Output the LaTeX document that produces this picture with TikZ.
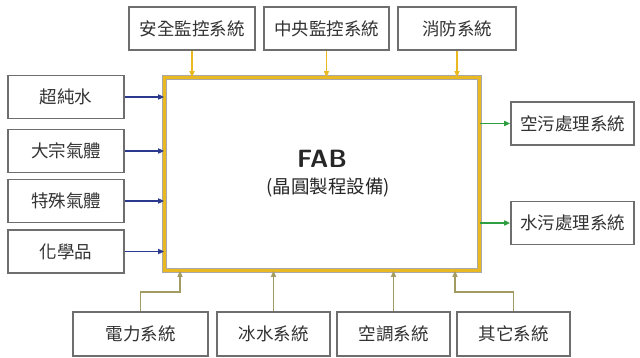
\documentclass[tikz,border=0pt]{standalone}
\usepackage{fontspec}
\setmainfont{Noto Sans CJK TC}
\newfontfamily\cjk{Noto Sans CJK TC}
\usetikzlibrary{arrows.meta}
\definecolor{boxgray}{HTML}{6E6E6E}
\definecolor{fabyellow}{HTML}{EAB821}
\definecolor{inblue}{HTML}{2B3A8F}
\definecolor{outgreen}{HTML}{2E9E40}
\definecolor{olive}{HTML}{A39C62}
\tikzset{
  sysbox/.style={draw=boxgray, line width=1.6pt, fill=white, inner sep=0pt,
    minimum height=43pt, font=\cjk\fontsize{17.5}{19}\selectfont, text=black!80},
  tip/.style={-{Triangle[length=6pt,width=5pt]}},
  topline/.style={tip, draw=fabyellow, line width=1.6pt},
  inline/.style={tip, draw=inblue, line width=1.6pt},
  outline/.style={tip, draw=outgreen, line width=1.6pt},
  botline/.style={tip, draw=olive, line width=1.6pt},
}
\begin{document}
\begin{tikzpicture}[x=1pt,y=-1pt]
\useasboundingbox (0,0) rectangle (640,358);
% FAB
\node[draw=boxgray!60, double=fabyellow, double distance=3.6pt, line width=0.7pt,
  minimum width=315pt, minimum height=193pt, inner sep=0pt] (fab) at (322,174) {};
\node[font=\sffamily\fontsize{25}{28}\selectfont\bfseries, text=black!85] (fabt) at (322,159) {FAB};
\node[font=\cjk\fontsize{18.5}{20}\selectfont, text=black!85] (fabs) at (328,188) {(晶圓製程設備)};
% top
\node[sysbox, minimum width=126pt] (t1) at (192,28.5) {安全監控系統};
\node[sysbox, minimum width=125pt] (t2) at (326.5,28.5) {中央監控系統};
\node[sysbox, minimum width=118pt] (t3) at (457,28.5) {消防系統};
% left
\node[sysbox, minimum width=116pt] (l1) at (66,97) {超純水};
\node[sysbox, minimum width=116pt] (l2) at (66,151) {大宗氣體};
\node[sysbox, minimum width=116pt] (l3) at (66,201) {特殊氣體};
\node[sysbox, minimum width=116pt] (l4) at (66,251.5) {化學品};
% right
\node[sysbox, minimum width=123pt] (r1) at (572.5,123.5) {空污處理系統};
\node[sysbox, minimum width=123pt] (r2) at (572.5,223) {水污處理系統};
% bottom
\node[sysbox, minimum width=135pt, minimum height=44pt] (b1) at (140.5,334) {電力系統};
\node[sysbox, minimum width=113pt, minimum height=44pt] (b2) at (273.5,334) {冰水系統};
\node[sysbox, minimum width=113pt, minimum height=44pt] (b3) at (393.5,334) {空調系統};
\node[sysbox, minimum width=113pt, minimum height=44pt] (b4) at (513.5,334) {其它系統};
% connectors
\draw[topline] (t1.south) -- (t1.south |- fab.north);
\draw[topline] (t2.south) -- (t2.south |- fab.north);
\draw[topline] (t3.south) -- (t3.south |- fab.north);
\draw[inline] (l1.east) -- (l1.east -| fab.west);
\draw[inline] (l2.east) -- (l2.east -| fab.west);
\draw[inline] (l3.east) -- (l3.east -| fab.west);
\draw[inline] (l4.east) -- (l4.east -| fab.west);
\draw[outline] (fab.east |- r1.west) -- (r1.west);
\draw[outline] (fab.east |- r2.west) -- (r2.west);
\coordinate (k1) at (180,292);
\coordinate (k4) at (455,292);
\draw[botline] (b1.north) |- (k1) -- (k1 |- fab.south);
\draw[botline] (b2.north) -- (b2.north |- fab.south);
\draw[botline] (b3.north) -- (b3.north |- fab.south);
\draw[botline] (b4.north) |- (k4) -- (k4 |- fab.south);
\end{tikzpicture}
\end{document}
